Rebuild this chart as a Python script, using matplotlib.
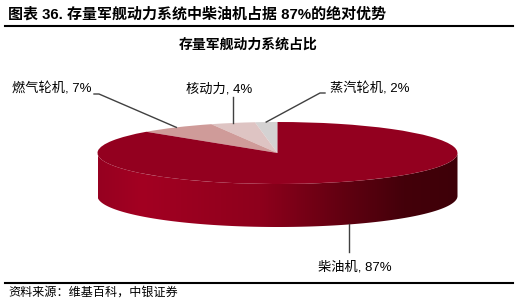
import numpy as np
import matplotlib
matplotlib.use("Agg")
import matplotlib.pyplot as plt
from matplotlib.colors import LinearSegmentedColormap
from matplotlib.patches import Polygon

# ---- data ----
categories = ["蒸汽轮机", "核动力", "燃气轮机", "柴油机"]
shares = [2, 4, 7, 87]
slice_colors = ["#D4D2D2", "#DEC4C3", "#CF9B99", "#93001F"]
title = "图表 36. 存量军舰动力系统中柴油机占据 87%的绝对优势"
chart_title = "存量军舰动力系统占比"
source = "资料来源：维基百科，中银证券"

FAM = ["Liberation Sans", "Noto Sans CJK SC"]
plt.rcParams["font.family"] = FAM

W, Hpx = 529, 303
fig = plt.figure(figsize=(W / 100, Hpx / 100), dpi=100)
ax = fig.add_axes([0, 0, 1, 1])

# ellipse geometry (pixels)
CX, CY, RX, RY, DEPTH = 277.5, 153.0, 180.0, 31.0, 43.0
H = DEPTH / RY

def px(x, y):
    return (x - CX) / RX, (CY - y) / RY

# side of the cylinder (front half), gradient filled
t = np.linspace(np.pi, 2 * np.pi, 200)
top = np.column_stack([np.cos(t), np.sin(t)])
bot = np.column_stack([np.cos(t[::-1]), np.sin(t[::-1]) - H])
side = Polygon(np.vstack([top, bot]), closed=True, facecolor="none", edgecolor="none")
ax.add_patch(side)
cmap = LinearSegmentedColormap.from_list(
    "side", [(0, "#960020"), (0.12, "#A30022"), (0.45, "#8E001C"),
             (0.7, "#5E0010"), (0.85, "#44000A"), (1, "#3E0008")])
grad = np.linspace(0, 1, 256).reshape(1, -1)
im = ax.imshow(grad, cmap=cmap, extent=(-1, 1, -1 - H, 0), aspect="auto",
               zorder=1, interpolation="bilinear")
im.set_clip_path(side)

# top face
wedges, _ = ax.pie(shares, colors=slice_colors, startangle=90, counterclock=True,
                   radius=1, center=(0, 0), wedgeprops=dict(linewidth=0))
for w in wedges:
    w.set_zorder(2)

ax.set_aspect("auto")
ax.set_xlim((0 - CX) / RX, (W - CX) / RX)
ax.set_ylim((CY - Hpx) / RY, CY / RY)
ax.axis("off")

# label anchors
cum = np.cumsum([0] + shares)
mids = [np.deg2rad(90 + (cum[i] + shares[i] / 2) / 100 * 360) for i in range(len(shares))]
edge = [(np.cos(m), np.sin(m)) for m in mids]

lc = "#404040"
fs = 9.5
# steam
p0 = px(325, 93); p1 = px(320, 93)
ax.plot([p0[0], p1[0], edge[0][0]], [p0[1], p1[1], edge[0][1]], color=lc, lw=1, zorder=3)
ax.text(*px(330, 89), f"{categories[0]}, {shares[0]}%", fontsize=fs, ha="left", va="center")
# nuclear
p0 = px(edge[1][0] * RX + CX, 97)
ax.plot([p0[0], edge[1][0]], [p0[1], edge[1][1]], color=lc, lw=1, zorder=3)
ax.text(*px(219, 89), f"{categories[1]}, {shares[1]}%", fontsize=fs, ha="center", va="center")
# gas
p0 = px(94, 94); p1 = px(99, 94)
ax.plot([p0[0], p1[0], edge[2][0]], [p0[1], p1[1], edge[2][1]], color=lc, lw=1, zorder=3)
ax.text(*px(12, 89), f"{categories[2]}, {shares[2]}%", fontsize=fs, ha="left", va="center")
# diesel
ex, ey = edge[3]
p0 = px(ex * RX + CX, 252)
ax.plot([ex, p0[0]], [ey - H, p0[1]], color=lc, lw=1, zorder=3)
ax.text(*px(355, 267), f"{categories[3]}, {shares[3]}%", fontsize=fs, ha="center", va="center")

# titles and rules
ax.text(*px(8, 14), title, fontsize=10.8, fontweight="bold", ha="left", va="center")
ax.text(*px(248, 45), chart_title, fontsize=10, fontweight="bold", ha="center", va="center")
for yy in (26, 283):
    a0 = px(5, yy); a1 = px(513, yy)
    ax.plot([a0[0], a1[0]], [a0[1], a1[1]], color="black", lw=1.5, zorder=3)
ax.text(*px(8, 293), source, fontsize=8.7, style="italic", ha="left", va="center")

fig.savefig("out.png", dpi=100)
